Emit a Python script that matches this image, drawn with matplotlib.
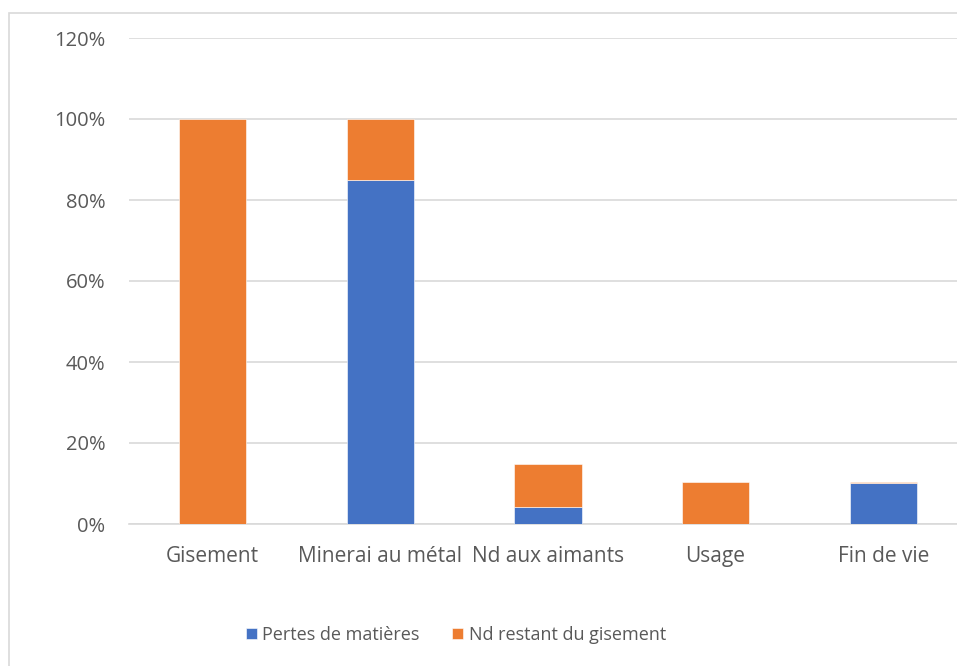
import matplotlib
matplotlib.use("Agg")
import matplotlib.pyplot as plt
from matplotlib.patches import Rectangle
from matplotlib.ticker import PercentFormatter

categories = ["Gisement", "Minerai au métal", "Nd aux aimants", "Usage", "Fin de vie"]
pertes = [0, 85, 4.3, 0, 10.2]
restant = [100, 15, 10.5, 10.3, 0.15]
yticks = [0, 20, 40, 60, 80, 100, 120]

BLUE = "#4472C4"
ORANGE = "#ED7D31"
GREY = "#595959"

plt.rcParams["font.family"] = ["Open Sans", "DejaVu Sans"]

fig = plt.figure(figsize=(9.57, 6.66), dpi=100)
W, H = 957, 666
# axes spans past the right edge, as in the cropped reference
ax = fig.add_axes([129 / W, 1 - 524 / H, (967 - 129) / W, (524 - 38) / H])

x = range(len(categories))
ax.bar(x, pertes, width=0.4, color=BLUE, edgecolor="white", linewidth=0.4,
       label="Pertes de matières", zorder=3)
ax.bar(x, restant, width=0.4, bottom=pertes, color=ORANGE, edgecolor="white",
       linewidth=0.4, label="Nd restant du gisement", zorder=3)

ax.set_xlim(-0.5, 4.5)
ax.set_ylim(0, 120)
ax.set_yticks(yticks)
ax.yaxis.set_major_formatter(PercentFormatter(decimals=0))
ax.set_xticks(list(x))
ax.set_xticklabels(categories)
ax.tick_params(axis="both", length=0, labelsize=14.5, colors=GREY)
ax.tick_params(axis="x", labelsize=15, pad=16)
ax.tick_params(axis="y", pad=17)
ax.grid(axis="y", color="#d9d9d9", linewidth=1.2, zorder=0)
for s in ["left", "right", "top"]:
    ax.spines[s].set_visible(False)
ax.spines["bottom"].set_color("#d9d9d9")
ax.spines["bottom"].set_linewidth(1.2)

fig.legend(loc="center", bbox_to_anchor=(456 / W, 1 - 635 / H), ncol=2,
           frameon=False, fontsize=13, labelcolor=GREY, handlelength=0.6,
           handleheight=0.6, handletextpad=0.3, columnspacing=1.8)

# outer chart frame (cropped on the right and bottom)
fig.patches.append(Rectangle((9 / W, -0.1), 1.2, 1 - 13 / H + 0.1,
                             transform=fig.transFigure, fill=False,
                             edgecolor="#d9d9d9", linewidth=1.2))

fig.savefig("out.png", dpi=100)
